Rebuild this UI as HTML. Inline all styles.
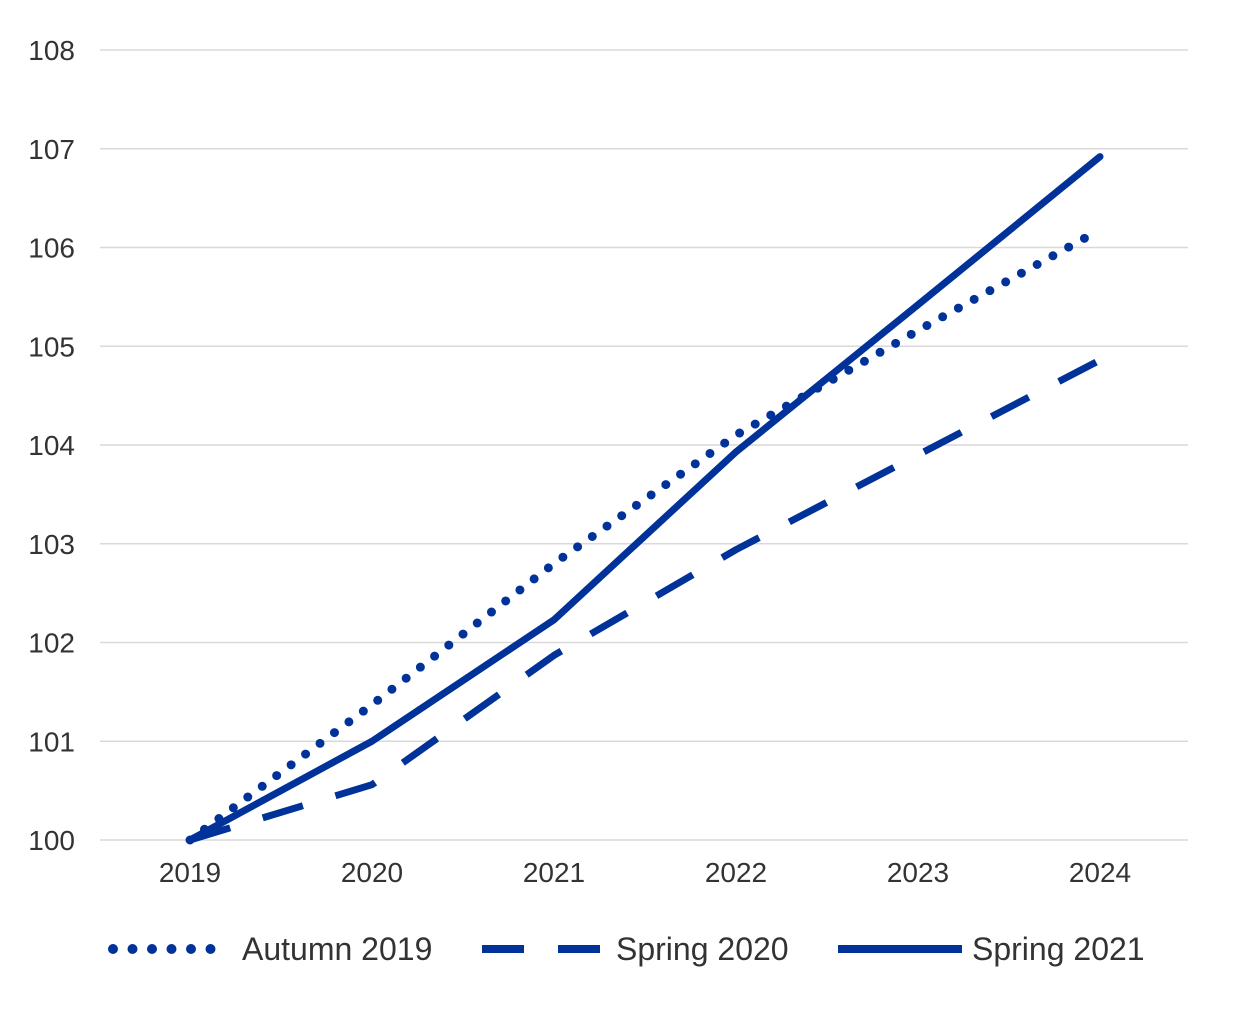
<!DOCTYPE html>
<html><head><meta charset="utf-8"><style>
html,body{margin:0;padding:0;background:#fff;}
svg{display:block;font-family:"Liberation Sans",Arial,sans-serif;}
</style></head><body>
<svg id="chart" width="1240" height="1009" viewBox="0 0 1240 1009" xmlns="http://www.w3.org/2000/svg">
<g id="grid"></g>
<g id="yticks"></g>
<g id="xticks"></g>
<g id="series"></g>
<g id="legend">
  <g>
    <line x1="113" y1="949" x2="230" y2="949" stroke="#003299" stroke-width="10" stroke-linecap="round" stroke-dasharray="0 19.5"/>
    <text x="242" y="960" font-size="32" fill="#333">Autumn 2019</text>
  </g>
  <g>
    <line x1="482" y1="949" x2="602" y2="949" stroke="#003299" stroke-width="8" stroke-dasharray="42 34"/>
    <text x="616" y="960" font-size="32" fill="#333">Spring 2020</text>
  </g>
  <g>
    <line x1="838" y1="949" x2="962" y2="949" stroke="#003299" stroke-width="8"/>
    <text x="972" y="960" font-size="32" fill="#333">Spring 2021</text>
  </g>
</g>
</svg>
<script>
const years = ["2019","2020","2021","2022","2023","2024"];
const yTickValues = [100,101,102,103,104,105,106,107,108];
const autumn2019 = [100,101.37,102.8,104.1,105.16,106.18];
const spring2020 = [100,100.56,101.87,102.94,103.9,104.86];
const spring2021 = [100,101.0,102.23,103.93,105.42,106.92];
const NS="http://www.w3.org/2000/svg";
const yMin=100,yMax=108,yTop=50,yBot=840;
function yScale(v){return yBot-(v-yMin)/(yMax-yMin)*(yBot-yTop);}
const xLeft=190,xRight=1100;
function xScale(i){return xLeft+i*(xRight-xLeft)/(years.length-1);}
const grid=document.getElementById('grid'),yt=document.getElementById('yticks'),xt=document.getElementById('xticks'),ser=document.getElementById('series');
yTickValues.forEach(v=>{
  const l=document.createElementNS(NS,'line');
  l.setAttribute('x1',100);l.setAttribute('x2',1188);
  l.setAttribute('y1',yScale(v));l.setAttribute('y2',yScale(v));
  l.setAttribute('stroke','#d9d9d9');l.setAttribute('stroke-width','1.5');
  
  
  grid.appendChild(l);
  const t=document.createElementNS(NS,'text');
  t.setAttribute('x',75);t.setAttribute('y',yScale(v)+10);
  t.setAttribute('text-anchor','end');t.setAttribute('font-size','28');t.setAttribute('fill','#333');
  t.textContent=v;
  
  
  yt.appendChild(t);
});
years.forEach((y,i)=>{
  const t=document.createElementNS(NS,'text');
  t.setAttribute('x',xScale(i));t.setAttribute('y',882);
  t.setAttribute('text-anchor','middle');t.setAttribute('font-size','28');t.setAttribute('fill','#333');
  t.textContent=y;
  
  
  xt.appendChild(t);
});
function addLine(vals,name,dash,cap,w){
  const p=document.createElementNS(NS,'polyline');
  p.setAttribute('points',vals.map((v,i)=>xScale(i)+','+yScale(v)).join(' '));
  p.setAttribute('fill','none');p.setAttribute('stroke','#003299');p.setAttribute('stroke-width',w);
  if(dash)p.setAttribute('stroke-dasharray',dash);
  p.setAttribute('stroke-linecap',cap);p.setAttribute('stroke-linejoin','round');
  
  
  ser.appendChild(p);
}
addLine(spring2020,'line-spring-2020','42 34','butt','7');
addLine(autumn2019,'line-autumn-2019','0 18','round','9');
addLine(spring2021,'line-spring-2021',null,'round','7');
</script>
</body></html>
